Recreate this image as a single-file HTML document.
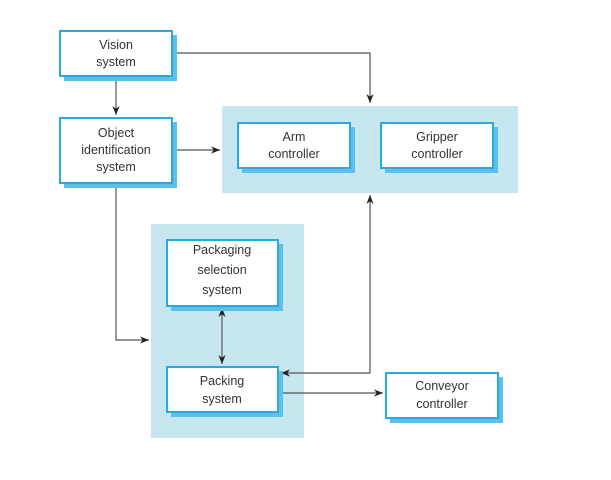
<!DOCTYPE html>
<html><head><meta charset="utf-8"><style>
html,body{margin:0;padding:0;background:#fff;}
svg{display:block;}
text{font-family:"Liberation Sans",sans-serif;font-size:12.5px;fill:#333;text-anchor:middle;}
</style></head><body>
<svg width="611" height="480" viewBox="0 0 611 480" xmlns="http://www.w3.org/2000/svg">
<defs>
<marker id="a" viewBox="0 0 10 10" refX="10" refY="5" markerWidth="9" markerHeight="9" orient="auto-start-reverse" markerUnits="userSpaceOnUse"><path d="M0,1 L10,5 L0,9 L3,5 z" fill="#222"/></marker>
</defs>
<!-- groups -->
<rect x="222" y="106" width="296" height="87" fill="#c6e6f0"/>
<rect x="151" y="224" width="153" height="214" fill="#c6e6f0"/>
<!-- connectors -->
<g stroke="#555" stroke-width="1.2" fill="none">
<path d="M172 53 H370 V103" marker-end="url(#a)"/>
<line x1="116" y1="76" x2="116" y2="115" marker-end="url(#a)"/>
<line x1="172" y1="150" x2="220" y2="150" marker-end="url(#a)"/>
<path d="M116 183 V340 H149" marker-end="url(#a)"/>
<line x1="222" y1="308" x2="222" y2="364" marker-start="url(#a)" marker-end="url(#a)"/>
<path d="M281 373 H370 V195" marker-start="url(#a)" marker-end="url(#a)"/>
<line x1="278" y1="393" x2="383" y2="393" marker-end="url(#a)"/>
</g>
<!-- boxes -->
<g>
<rect x="64" y="35" width="113" height="46" fill="#5cc0e8"/>
<rect x="60" y="31" width="112" height="45" fill="#fff" stroke="#29a9e0" stroke-width="2"/>
<text x="116" y="49">Vision</text><text x="116" y="66">system</text>

<rect x="64" y="122" width="113" height="66" fill="#5cc0e8"/>
<rect x="60" y="118" width="112" height="65" fill="#fff" stroke="#29a9e0" stroke-width="2"/>
<text x="116" y="137">Object</text><text x="116" y="154">identification</text><text x="116" y="171">system</text>

<rect x="242" y="127" width="113" height="46" fill="#5cc0e8"/>
<rect x="238" y="123" width="112" height="45" fill="#fff" stroke="#29a9e0" stroke-width="2"/>
<text x="294" y="141">Arm</text><text x="294" y="158">controller</text>

<rect x="385" y="127" width="113" height="46" fill="#5cc0e8"/>
<rect x="381" y="123" width="112" height="45" fill="#fff" stroke="#29a9e0" stroke-width="2"/>
<text x="437" y="141">Gripper</text><text x="437" y="158">controller</text>

<rect x="171" y="244" width="112" height="67" fill="#5cc0e8"/>
<rect x="167" y="240" width="111" height="66" fill="#fff" stroke="#29a9e0" stroke-width="2"/>
<text x="222" y="254">Packaging</text><text x="222" y="274">selection</text><text x="222" y="294">system</text>

<rect x="171" y="371" width="112" height="46" fill="#5cc0e8"/>
<rect x="167" y="367" width="111" height="45" fill="#fff" stroke="#29a9e0" stroke-width="2"/>
<text x="222" y="385">Packing</text><text x="222" y="403">system</text>

<rect x="390" y="377" width="113" height="46" fill="#5cc0e8"/>
<rect x="386" y="373" width="112" height="45" fill="#fff" stroke="#29a9e0" stroke-width="2"/>
<text x="442" y="390">Conveyor</text><text x="442" y="408">controller</text>
</g>
</svg>
</body></html>
